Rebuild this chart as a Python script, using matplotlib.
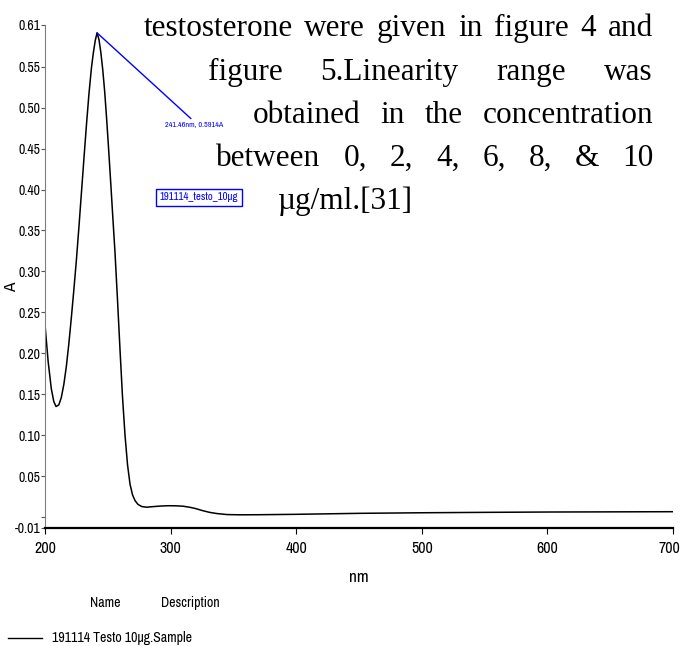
# UV spectrum of testosterone 10 ug/ml

import matplotlib
matplotlib.use("Agg")
import matplotlib.pyplot as plt
from matplotlib.lines import Line2D
from matplotlib import font_manager
from matplotlib.transforms import ScaledTranslation

# Data
wavelength = [200, 202.5, 205, 207, 208.8, 211, 213, 215, 217, 219, 221, 223,
              225, 227, 229, 231, 233, 235, 237, 238.5, 240, 241.46,
              243, 244.5, 246, 247.5, 249, 250.5, 252.5, 254, 255.7, 257.7, 259.7,
              261.7, 263.7, 265.7, 267.7, 269.7, 271.7, 274, 277, 281, 286, 292,
              298, 304, 310, 315, 320, 325, 331, 337, 345, 355, 370, 400, 450,
              500, 550, 600, 650, 700]
absorbance = [0.235, 0.19, 0.157, 0.141, 0.135, 0.137, 0.146, 0.162, 0.184, 0.212,
              0.244, 0.278, 0.314, 0.354, 0.396, 0.438, 0.479, 0.517, 0.549,
              0.567, 0.582, 0.5914,
              0.583, 0.567, 0.546, 0.52, 0.488, 0.453, 0.404, 0.366, 0.324, 0.266,
              0.205, 0.147, 0.100, 0.064, 0.040, 0.027, 0.020, 0.0155, 0.0128,
              0.012, 0.0127, 0.0134, 0.0138, 0.0137, 0.0132, 0.012, 0.0103, 0.008,
              0.0057, 0.0042, 0.003, 0.0027, 0.0028, 0.0033, 0.0045, 0.0052,
              0.0057, 0.0061, 0.0063, 0.0065]

peak_nm = 241.46
peak_a = 0.5914
peak_label = "241.46nm, 0.5914A"
sample_tag = "191114_testo_10µg"
legend_name = "191114 Testo 10µg.Sample"

x_ticks = [200, 300, 400, 500, 600, 700]
y_min, y_max = -0.0128, 0.601
y_ticks = [y_min, 0.0, 0.05, 0.10, 0.15, 0.20, 0.25, 0.30, 0.35, 0.40, 0.45, 0.50, 0.55, y_max]
y_labels = ["-0.01", "", "0.05", "0.10", "0.15", "0.20", "0.25", "0.30", "0.35",
            "0.40", "0.45", "0.50", "0.55", "0.61"]

# page text that sits over the chart
overlay_lines = ["testosterone were given in figure 4 and",
                 "figure 5.Linearity range was",
                 "obtained in the concentration",
                 "between 0, 2, 4, 6, 8, & 10",
                 "µg/ml.[31]"]

W, H = 681, 646

# narrow sans if there is one, else Liberation Sans a bit smaller
narrow_path = None
for f in font_manager.fontManager.ttflist:
    if "Narrow" in f.name and f.style == "normal" and f.weight in (400, "normal", "regular"):
        narrow_path = f.fname
        break
if narrow_path:
    narrow = font_manager.FontProperties(fname=narrow_path)
    k = 1.0
else:
    narrow = font_manager.FontProperties(family="Liberation Sans")
    k = 0.84
serif = ["Liberation Serif", "DejaVu Serif"]

fig = plt.figure(figsize=(W / 100, H / 100), dpi=100)
ax = fig.add_axes([45 / W, 1 - 527.5 / H, (673 - 45) / W, (527.5 - 25) / H])

ax.plot(wavelength, absorbance, color="black", lw=1.1)
ax.set_xlim(200, 700)
ax.set_ylim(y_min, y_max)

ax.spines["top"].set_visible(False)
ax.spines["right"].set_visible(False)
ax.spines["left"].set_color("#7f7f7f")
ax.spines["left"].set_linewidth(0.8)
ax.spines["bottom"].set_linewidth(1.6)

ax.set_xticks(x_ticks)
ax.set_xticklabels([str(v) for v in x_ticks], fontproperties=narrow, fontsize=11.5 * k)
ax.set_yticks(y_ticks)
ax.set_yticklabels(y_labels, fontproperties=narrow, fontsize=10 * k)
ax.tick_params(axis="x", length=4, width=0.8, pad=5.5)
ax.tick_params(axis="y", length=3, width=0.8, pad=0.5, color="#555555")
last = ax.get_xticklabels()[-1]
last.set_horizontalalignment("right")
last.set_transform(last.get_transform() + ScaledTranslation(7 / 100, 0, fig.dpi_scale_trans))

fig.text(359 / W, 1 - 578 / H, "nm", fontproperties=narrow, fontsize=12.5 * k,
         ha="center", va="center")
fig.text(12 / W, 1 - 287 / H, "A", fontproperties=narrow, fontsize=12.5 * k,
         ha="center", va="center", rotation=90)

# peak marker
ax.annotate(peak_label, xy=(peak_nm, peak_a), xytext=(318.6, 0.4796),
            color="blue", fontproperties=narrow, fontsize=5.8 * k, ha="center", va="center",
            arrowprops=dict(arrowstyle="-", color="blue", lw=1, shrinkA=0, shrinkB=0,
                            relpos=(0.5, 1.0)))
ax.text(322.7, 0.3904, sample_tag, color="blue", fontproperties=narrow, fontsize=7.8 * k,
        ha="center", va="center",
        bbox=dict(boxstyle="square,pad=0.35", fc="none", ec="blue", lw=1))

# legend block under the plot
fig.text(105 / W, 1 - 603 / H, "Name", fontproperties=narrow, fontsize=10 * k,
         ha="center", va="center")
fig.text(190 / W, 1 - 603 / H, "Description", fontproperties=narrow, fontsize=10 * k,
         ha="center", va="center")
fig.add_artist(Line2D([8 / W, 42 / W], [1 - 638 / H, 1 - 638 / H], color="black", lw=1,
                      transform=fig.transFigure))
fig.text(52 / W, 1 - 638 / H, legend_name, fontproperties=narrow, fontsize=10 * k,
         ha="left", va="center")

# justified paragraph on top
line_left = [143.5, 207.7, 252.8, 216.4, 277.2]
line_base = [36, 80, 123, 166, 209]
right_edge = 653
renderer = fig.canvas.get_renderer()
for n, (line, x0, yb) in enumerate(zip(overlay_lines, line_left, line_base)):
    words = line.split()
    objs = [fig.text(0, 1 - yb / H, w, family=serif, fontsize=22.5, ha="left", va="baseline")
            for w in words]
    widths = [o.get_window_extent(renderer).width for o in objs]
    if len(words) > 1 and n < len(overlay_lines) - 1:
        gap = (right_edge - x0 - sum(widths)) / (len(words) - 1)
    else:
        gap = 8
    x = x0
    for o, w in zip(objs, widths):
        o.set_x(x / W)
        x += w + gap

fig.savefig("out.png", dpi=100)
